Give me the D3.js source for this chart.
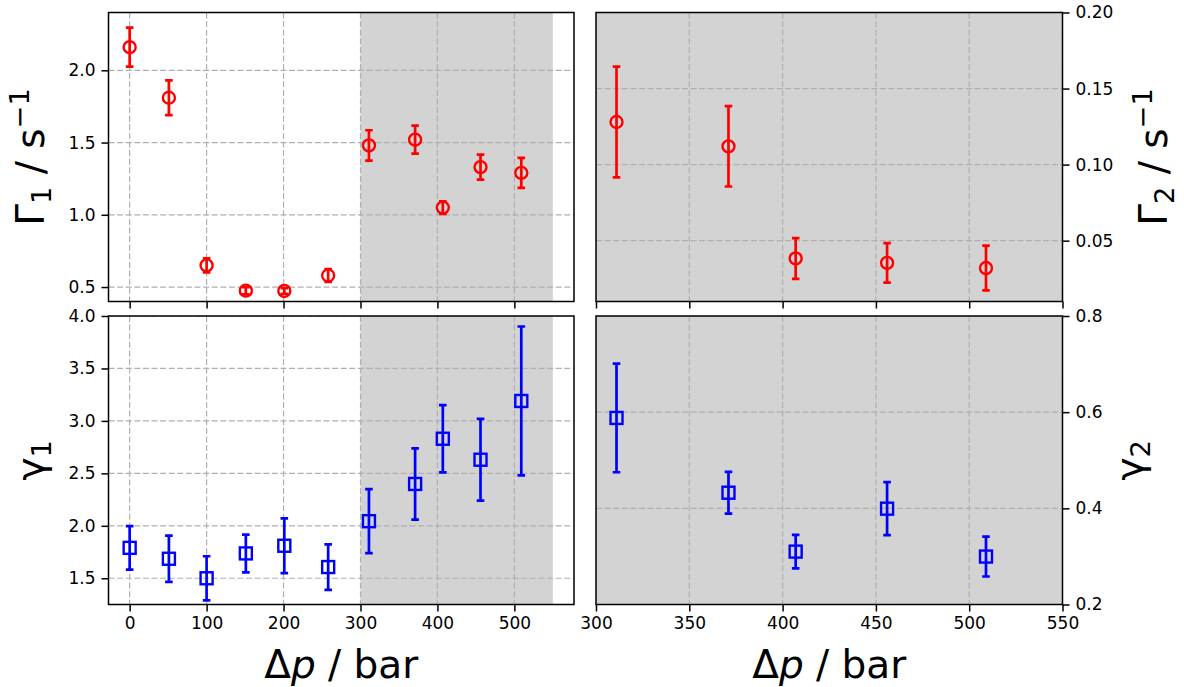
<!DOCTYPE html>
<html>
<head>
<meta charset="utf-8">
<script src="https://cdn.jsdelivr.net/npm/d3@7"></script>
<style>
  html, body { margin: 0; padding: 0; background: #fff; }
  svg { display: block; }
  text { font-family: "DejaVu Sans", sans-serif; fill: #000; }
</style>
</head>
<body>
<svg id="chart" width="1184" height="687"></svg>
<script>
// ---------------- data ----------------
const pressureAll = [0, 51, 100, 151, 201, 258, 311, 371, 407, 456, 509];
const rate1 = [2.16, 1.81, 0.65, 0.475, 0.473, 0.58, 1.48, 1.52, 1.05, 1.33, 1.29];
const rate1Err = [0.135, 0.12, 0.048, 0.025, 0.02, 0.045, 0.105, 0.097, 0.043, 0.087, 0.104];
const exponent1 = [1.79, 1.686, 1.5, 1.737, 1.81, 1.607, 2.044, 2.399, 2.83, 2.63, 3.19];
const exponent1Err = [0.207, 0.22, 0.21, 0.18, 0.26, 0.217, 0.305, 0.34, 0.32, 0.39, 0.71];

const pressureHigh = [311, 371, 407, 456, 509];
const rate2 = [0.128, 0.112, 0.0383, 0.0354, 0.032];
const rate2Err = [0.0364, 0.0264, 0.0134, 0.013, 0.0147];
const exponent2 = [0.588, 0.4325, 0.310, 0.3993, 0.2997];
const exponent2Err = [0.113, 0.0435, 0.035, 0.055, 0.0415];

const shadedRange = [300, 550];

const xTicksLeft = [0, 100, 200, 300, 400, 500];
const xTicksRight = [300, 350, 400, 450, 500, 550];
const yTicksRate1 = [0.5, 1.0, 1.5, 2.0];
const yTicksRate2 = [0.05, 0.10, 0.15, 0.20];
const yTicksExp1 = [1.5, 2.0, 2.5, 3.0, 3.5, 4.0];
const yTicksExp2 = [0.2, 0.4, 0.6, 0.8];

// ---------------- layout ----------------
const svg = d3.select("#chart");
const L = {x0: 108.5, x1: 574};
const R = {x0: 596, x1: 1062.5};
const T = {y0: 12.5, y1: 301.5};
const B = {y0: 316, y1: 604.5};
const RED = "#ff0000", BLUE = "#0000ff", GRAY = "#d3d3d3";
const TICK = 7, TICKFONT = 17;

const xLeft = d3.scaleLinear().domain([-27.5, 577.5]).range([L.x0, L.x1]);
const xRight = d3.scaleLinear().domain([300, 550]).range([R.x0, R.x1]);
const yRate1 = d3.scaleLinear().domain([0.4, 2.4]).range([T.y1, T.y0]);
const yRate2 = d3.scaleLinear().domain([0.01, 0.20]).range([T.y1, T.y0]);
const yExp1 = d3.scaleLinear().domain([1.25, 4.0]).range([B.y1, B.y0]);
const yExp2 = d3.scaleLinear().domain([0.2, 0.8]).range([B.y1, B.y0]);

let clipCount = 0;
function panel(opts) {
  const {x, y, box, xTicks, yTicks, yFmt, xLabels, yRight, shade, fullShade,
         xs, ys, errs, color, marker} = opts;
  const g = svg.append("g");
  const clipId = "clip" + (clipCount++);
  g.append("clipPath").attr("id", clipId).append("rect")
    .attr("x", box.x0).attr("y", box.y0)
    .attr("width", box.x1 - box.x0).attr("height", box.y1 - box.y0);
  const inner = g.append("g").attr("clip-path", `url(#${clipId})`);
  if (fullShade) {
    inner.append("rect").attr("x", box.x0).attr("y", box.y0)
      .attr("width", box.x1 - box.x0).attr("height", box.y1 - box.y0).attr("fill", GRAY);
  } else if (shade) {
    inner.append("rect").attr("x", x(shade[0])).attr("y", box.y0)
      .attr("width", x(shade[1]) - x(shade[0])).attr("height", box.y1 - box.y0).attr("fill", GRAY);
  }
  // grid
  inner.selectAll(".gx").data(xTicks).join("line")
    .attr("x1", d => x(d)).attr("x2", d => x(d))
    .attr("y1", box.y0).attr("y2", box.y1)
    .attr("stroke", "#b0b0b0").attr("stroke-width", 1.2).attr("stroke-dasharray", "6,2.6");
  inner.selectAll(".gy").data(yTicks).join("line")
    .attr("x1", box.x0).attr("x2", box.x1)
    .attr("y1", d => y(d)).attr("y2", d => y(d))
    .attr("stroke", "#b0b0b0").attr("stroke-width", 1.2).attr("stroke-dasharray", "6,2.6");
  // error bars
  const pts = xs.map((v, i) => ({x: v, y: ys[i], e: errs[i]}));
  const eb = inner.append("g").attr("stroke", color).attr("stroke-width", 2.7).attr("fill", "none");
  eb.selectAll(".bar").data(pts).join("line")
    .attr("x1", d => x(d.x)).attr("x2", d => x(d.x))
    .attr("y1", d => y(d.y - d.e)).attr("y2", d => y(d.y + d.e));
  eb.selectAll(".capT").data(pts).join("line")
    .attr("x1", d => x(d.x) - 3.8).attr("x2", d => x(d.x) + 3.8)
    .attr("y1", d => y(d.y + d.e)).attr("y2", d => y(d.y + d.e));
  eb.selectAll(".capB").data(pts).join("line")
    .attr("x1", d => x(d.x) - 3.8).attr("x2", d => x(d.x) + 3.8)
    .attr("y1", d => y(d.y - d.e)).attr("y2", d => y(d.y - d.e));
  const mk = inner.append("g").attr("stroke", color).attr("stroke-width", 2.4).attr("fill", "none");
  if (marker === "circle") {
    mk.selectAll("circle").data(pts).join("circle")
      .attr("cx", d => x(d.x)).attr("cy", d => y(d.y)).attr("r", 6);
  } else {
    mk.selectAll("rect").data(pts).join("rect")
      .attr("x", d => x(d.x) - 6).attr("y", d => y(d.y) - 6)
      .attr("width", 12).attr("height", 12);
  }
  // frame
  g.append("rect").attr("x", box.x0).attr("y", box.y0)
    .attr("width", box.x1 - box.x0).attr("height", box.y1 - box.y0)
    .attr("fill", "none").attr("stroke", "#000").attr("stroke-width", 1.5);
  // x axis
  const xa = d3.axisBottom(x).tickValues(xTicks).tickSize(TICK).tickPadding(5)
    .tickFormat(xLabels ? d3.format("d") : () => "");
  const xg = g.append("g").attr("transform", `translate(0,${box.y1})`).call(xa);
  // y axis
  const ya = (yRight ? d3.axisRight(y) : d3.axisLeft(y)).tickValues(yTicks)
    .tickSize(TICK).tickPadding(6).tickFormat(d3.format(yFmt));
  const yg = g.append("g").attr("transform", `translate(${yRight ? box.x1 : box.x0},0)`).call(ya);
  [xg, yg].forEach(a => {
    a.select(".domain").remove();
    a.selectAll(".tick line").attr("stroke", "#000").attr("stroke-width", 1.5);
    a.selectAll(".tick text").attr("fill", "#000")
      .style("font-family", "DejaVu Sans").style("font-size", TICKFONT + "px");
  });
}

panel({x: xLeft, y: yRate1, box: {...L, ...T}, xTicks: xTicksLeft, yTicks: yTicksRate1, yFmt: ".1f",
  xLabels: false, yRight: false, shade: shadedRange, xs: pressureAll, ys: rate1, errs: rate1Err,
  color: RED, marker: "circle"});
panel({x: xRight, y: yRate2, box: {...R, ...T}, xTicks: xTicksRight, yTicks: yTicksRate2, yFmt: ".2f",
  xLabels: false, yRight: true, fullShade: true, xs: pressureHigh, ys: rate2, errs: rate2Err,
  color: RED, marker: "circle"});
panel({x: xLeft, y: yExp1, box: {...L, ...B}, xTicks: xTicksLeft, yTicks: yTicksExp1, yFmt: ".1f",
  xLabels: true, yRight: false, shade: shadedRange, xs: pressureAll, ys: exponent1, errs: exponent1Err,
  color: BLUE, marker: "square"});
panel({x: xRight, y: yExp2, box: {...R, ...B}, xTicks: xTicksRight, yTicks: yTicksExp2, yFmt: ".1f",
  xLabels: true, yRight: true, fullShade: true, xs: pressureHigh, ys: exponent2, errs: exponent2Err,
  color: BLUE, marker: "square"});

// ---------------- axis labels ----------------
const LABEL = 39;
function xLabel(cx) {
  const t = svg.append("text").attr("x", cx).attr("y", 678).attr("text-anchor", "middle")
    .style("font-size", LABEL + "px");
  t.append("tspan").text("Δ");
  t.append("tspan").style("font-style", "italic").text("p");
  t.append("tspan").text(" / bar");
}
xLabel((L.x0 + L.x1) / 2);
xLabel((R.x0 + R.x1) / 2);

function rateLabel(bx, cy, sub) {
  const t = svg.append("text").attr("transform", `translate(${bx},${cy}) rotate(-90)`)
    .attr("text-anchor", "middle").style("font-size", LABEL + "px");
  t.append("tspan").text("Γ");
  t.append("tspan").attr("dy", 7).style("font-size", (LABEL * 0.7) + "px").text(sub);
  t.append("tspan").attr("dy", -7).text(" / s");
  t.append("tspan").attr("dy", -15).style("font-size", (LABEL * 0.7) + "px").text("−1");
}
function expLabel(bx, cy, sub) {
  const t = svg.append("text").attr("transform", `translate(${bx},${cy}) rotate(-90)`)
    .attr("text-anchor", "middle").style("font-size", LABEL + "px");
  t.append("tspan").text("γ");
  t.append("tspan").attr("dy", 7).style("font-size", (LABEL * 0.7) + "px").text(sub);
}
rateLabel(44, (T.y0 + T.y1) / 2, "1");
expLabel(44, (B.y0 + B.y1) / 2, "1");
rateLabel(1167, (T.y0 + T.y1) / 2, "2");
expLabel(1143, (B.y0 + B.y1) / 2, "2");
</script>
</body>
</html>
